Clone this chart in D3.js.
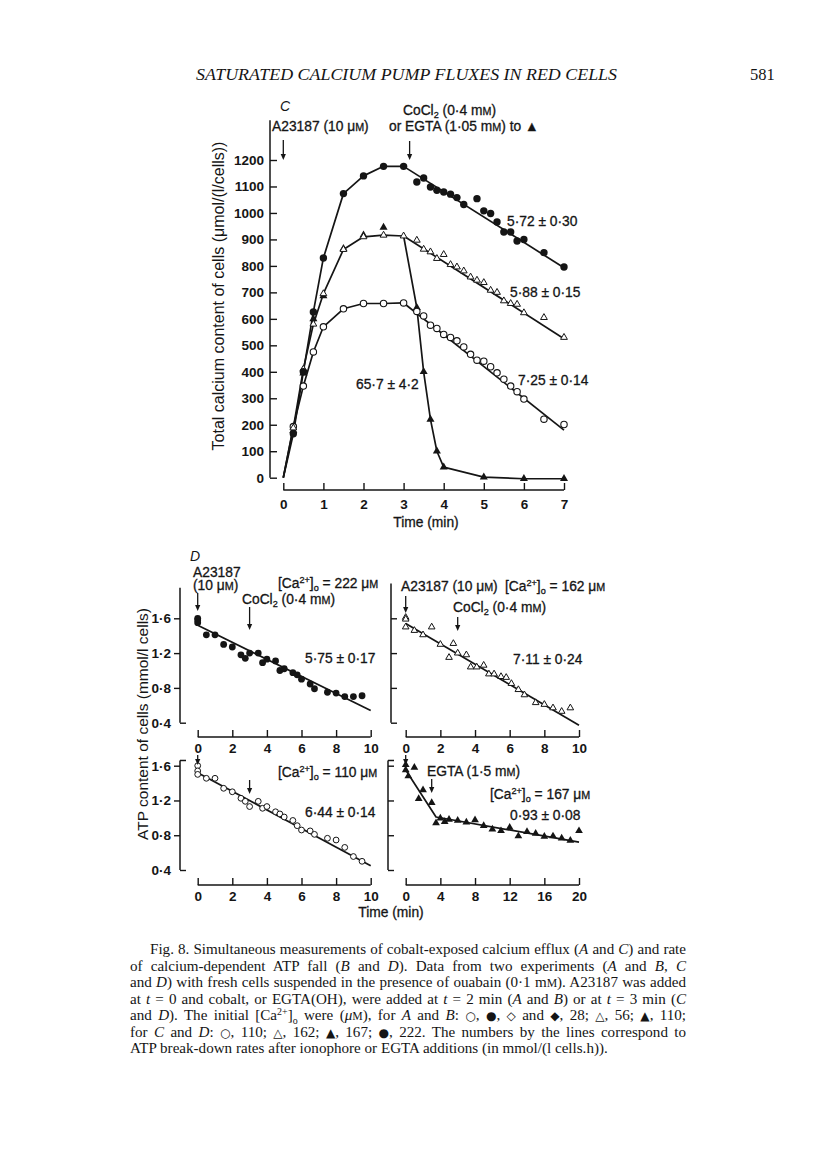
<!DOCTYPE html>
<html><head><meta charset="utf-8">
<script src="https://cdn.jsdelivr.net/npm/d3@7"></script>
<style>body{margin:0;background:#fff}</style>
</head><body>
<svg id="fig" width="816" height="1166" xmlns="http://www.w3.org/2000/svg"></svg>
<script>
// ---------------- DATA ----------------
// Panel C: total calcium content (µmol/(l cells)) vs time (min)
const cXTicks = [0,1,2,3,4,5,6,7];
const cYTicks = [0,100,200,300,400,500,600,700,800,900,1000,1100,1200];
const cFilledCircles = [[0.25,166],[0.5,400],[0.75,626],[1,830],[1.5,1073],[2,1140],[2.5,1176],[3,1176],
  [3.33,1117],[3.5,1132],[3.67,1098],[3.83,1086],[4,1079],[4.17,1071],[4.33,1058],[4.5,1032],[4.83,1054],
  [5,1008],[5.17,998],[5.33,966],[5.5,928],[5.67,928],[5.83,894],[6,900],[6.5,850],[7,796]];
const cOpenTriangles = [[0.25,188],[0.5,410],[0.75,580],[1,695],[1.5,862],[2,910],[2.5,916],[3,913],
  [3.33,897],[3.5,863],[3.67,853],[3.83,828],[4,843],[4.17,805],[4.33,796],[4.5,781],[4.67,758],[4.83,746],
  [5,737],[5.17,708],[5.33,700],[5.5,668],[5.67,658],[5.83,655],[6,623],[6.5,605],[7,530]];
const cFilledTriangles = [[0.25,178],[0.5,395],[0.75,600],[1,687],[1.5,865],[2,916],[2.5,945],
  [3.33,642],[3.5,400],[3.67,220],[3.83,100],[4,40],[5,2],[6,-4],[7,-4]];
const cOpenCircles = [[0.25,193],[0.5,346],[0.75,475],[1,570],[1.5,638],[2,658],[2.5,658],[3,660],
  [3.33,628],[3.5,611],[3.67,576],[3.83,564],[4,541],[4.17,530],[4.33,517],[4.5,494],[4.67,466],[4.83,444],
  [5,440],[5.17,419],[5.33,396],[5.5,372],[5.67,346],[5.83,325],[6,297],[6.5,221],[7,201]];
const cOrigin = [0,0];
const cFitFilledCircles = [[3,1176],[7,793]];
const cFitOpenTriangles = [[3,913],[7,525]];
const cFitOpenCircles = [[3,660],[7,180]];
const cEgtaDrop = [[3,913],[3.33,642],[3.5,400],[3.67,220],[3.83,100],[4,40],[5,2],[6,-4],[7,-4]];
const cRates = ["5·72 ± 0·30","5·88 ± 0·15","7·25 ± 0·14","65·7 ± 4·2"];

// Panel D: ATP content (mmol/l cells) vs time (min)
const dYTicks = [0.4,0.8,1.2,1.6];
const dXTicks10 = [0,2,4,6,8,10];
const dXTicks20 = [0,4,8,12,16,20];
const dFilledCircles222 = [[0,1.60],[0,1.58],[0,1.55],[0.5,1.41],[1,1.41],[1.5,1.30],[2,1.27],[2.5,1.18],
  [2.75,1.14],[3,1.20],[3.5,1.20],[3.75,1.09],[4,1.13],[4.5,1.11],[4.75,1.00],[5,1.02],[5.5,0.975],
  [5.75,0.95],[6,0.90],[6.5,0.845],[6.75,0.79],[7.5,0.75],[8,0.74],[8.5,0.70],[9,0.70],[9.5,0.71]];
const dOpenTriangles162 = [[0,1.61],[0,1.59],[0,1.50],[0.5,1.46],[1,1.41],[1.5,1.50],[2,1.30],[2.5,1.15],
  [2.75,1.31],[3,1.20],[3.5,1.18],[3.75,1.04],[4.1,1.04],[4.5,1.06],[4.8,0.96],[5.1,0.96],[5.5,0.93],
  [5.8,0.92],[6.1,0.85],[6.5,0.78],[6.85,0.72],[7.5,0.63],[8,0.61],[8.5,0.57],[9,0.53],[9.5,0.57]];
const dOpenCircles110 = [[0,1.60],[0,1.54],[0,1.50],[0.5,1.455],[1,1.455],[1.5,1.34],[2,1.30],[2.5,1.225],
  [2.75,1.19],[3,1.13],[3.5,1.19],[3.75,1.11],[4,1.13],[4.5,1.07],[4.75,1.045],[5,1.01],[5.5,0.97],
  [5.75,0.91],[6,0.86],[6.5,0.85],[6.75,0.81],[7.5,0.765],[8,0.745],[8.5,0.66],[9,0.555],[9.5,0.50]];
const dFilledTriangles167 = [[0,1.61],[0,1.55],[0.3,1.48],[1,1.58],[1.5,1.22],[2,1.32],[3,1.175],[3.5,0.94],
  [4,0.995],[4.5,0.955],[5,0.98],[6,0.97],[7,0.95],[8,0.975],[9,0.91],[10,0.87],[11,0.85],[12,0.89],
  [13,0.79],[14,0.84],[15,0.82],[16,0.785],[17,0.79],[18,0.765],[19,0.74],[20,0.85]];
const dFit222 = [[0,1.52],[10,0.54]];
const dFit162 = [[0,1.54],[10,0.37]];
const dFit110 = [[0,1.52],[10,0.45]];
const dFit167 = [[0,1.55],[3.5,1.01],[20,0.72]];
const dRates = ["5·75 ± 0·17","7·11 ± 0·24","6·44 ± 0·14","0·93 ± 0·08"];

const captionLines = [
  "Fig. 8. Simultaneous measurements of cobalt-exposed calcium efflux (*{A} and *{C}) and rate",
  "of calcium-dependent ATP fall (*{B} and *{D}). Data from two experiments (*{A} and *{B}, *{C}",
  "and *{D}) with fresh cells suspended in the presence of ouabain (0·1 m~{M}). A23187 was added",
  "at *{t} = 0 and cobalt, or EGTA(OH), were added at *{t} = 2 min (*{A} and *{B}) or at *{t} = 3 min (*{C}",
  "and *{D}). The initial [Ca^{2+}]_{o} were (*{μ}~{M}), for *{A} and *{B}: #{○}, #{●}, #{◇} and #{◆}, 28; #{△}, 56; #{▲}, 110;",
  "for *{C} and *{D}: #{○}, 110; #{△}, 162; #{▲}, 167; #{●}, 222. The numbers by the lines correspond to",
  "ATP break-down rates after ionophore or EGTA additions (in mmol/(l cells.h))."
];

// ---------------- DRAWING ----------------
const svg = d3.select("#fig");
svg.append("rect").attr("width",816).attr("height",1166).attr("fill","#fff");
const INK = "#151515";
const SANS = "'Liberation Sans', Arial, Helvetica, sans-serif";
const SERIF = "'Liberation Serif', 'Times New Roman', serif";
const SYM = "'DejaVu Sans', sans-serif";
const FS = 13.8; // annotation font size

function rich(sel, x, y, s, size, anchor, family){
  const t = sel.append("text").attr("x",x).attr("y",y).attr("font-size",size)
    .attr("text-anchor",anchor||"start").attr("font-family",family||SANS).attr("fill",INK);
  const re = /([_^~*#])\{([^}]*)\}/g; let last=0, m, shift=0;
  const push = (txt,type)=>{
    if(!txt) return;
    const ts = t.append("tspan").text(txt);
    let target=0, fs=size;
    if(type==="_"){target=size*0.24; fs=size*0.66;}
    else if(type==="^"){target=-size*0.33; fs=size*0.66;}
    else if(type==="~"){fs=size*0.78;}
    else if(type==="*"){ts.attr("font-style","italic");}
    else if(type==="#"){fs=size*0.8; ts.attr("font-family",SYM);}
    ts.attr("font-size",fs);
    if(target!==shift){ts.attr("dy",target-shift); shift=target;}
  };
  while((m=re.exec(s))){ push(s.slice(last,m.index),""); push(m[2],m[1]); last=re.lastIndex; }
  push(s.slice(last),"");
  return t;
}
function note(sel,x,y,s,anchor){
  return rich(sel,x,y,s,FS,anchor).attr("stroke",INK).attr("stroke-width",0.3);
}
function arrow(sel, x, y1, y2){
  sel.append("line").attr("x1",x).attr("x2",x).attr("y1",y1).attr("y2",y2-4)
    .attr("stroke",INK).attr("stroke-width",1.3);
  sel.append("path").attr("d",`M${x-2.6},${y2-6}L${x+2.6},${y2-6}L${x},${y2}Z`).attr("fill",INK);
}
const fmt = d => String(d).replace(".","·");
function styleAxis(g, size){
  g.selectAll("path.domain").remove();
  g.selectAll(".tick line").attr("stroke",INK).attr("stroke-width",1.4);
  g.selectAll(".tick text").attr("font-family",SANS).attr("font-size",size).attr("fill",INK)
    .attr("font-weight","bold");
}
function vline(sel,x,y1,y2){ sel.append("line").attr("x1",x).attr("x2",x).attr("y1",y1).attr("y2",y2).attr("stroke",INK).attr("stroke-width",1.5); }
function hline(sel,y,x1,x2){ sel.append("line").attr("x1",x1).attr("x2",x2).attr("y1",y).attr("y2",y).attr("stroke",INK).attr("stroke-width",1.5); }

// header
svg.append("text").attr("x",196).attr("y",80).attr("font-family",SERIF).attr("font-style","italic")
  .attr("font-size",16.5).attr("fill",INK).attr("textLength",421).attr("lengthAdjust","spacingAndGlyphs")
  .text("SATURATED CALCIUM PUMP FLUXES IN RED CELLS");
svg.append("text").attr("x",750).attr("y",80).attr("font-family",SERIF).attr("font-size",16.5).attr("fill",INK).text("581");

// ---------- Panel C ----------
const gC = svg.append("g");
const xC = d3.scaleLinear().domain([0,7]).range([283.3,564]);
const yC = d3.scaleLinear().domain([0,1200]).range([477.7,160]);
const yAxC = gC.append("g").attr("transform",`translate(${270},0)`)
  .call(d3.axisLeft(yC).tickValues(cYTicks).tickFormat(d=>String(d)).tickSizeInner(-7).tickSizeOuter(0).tickPadding(6));
styleAxis(yAxC,13.5);
vline(gC,270,yC(0),yC(1350));
const xAxC = gC.append("g").attr("transform",`translate(0,${490})`)
  .call(d3.axisBottom(xC).tickValues(cXTicks).tickFormat(d=>String(d)).tickSizeInner(-7).tickSizeOuter(0).tickPadding(9));
styleAxis(xAxC,13.5);
hline(gC,490,xC(0),xC(7));

const lineC = d3.line().x(d=>xC(d[0])).y(d=>yC(d[1]));
const rise = arr => [cOrigin].concat(arr.filter(d=>d[0]<=3));
const lineStyle = p => p.attr("fill","none").attr("stroke",INK).attr("stroke-width",1.7).attr("stroke-linejoin","round");
[rise(cFilledCircles), rise(cOpenTriangles), rise(cOpenCircles), cFitFilledCircles, cFitOpenTriangles, cFitOpenCircles, cEgtaDrop]
  .forEach(a=> lineStyle(gC.append("path").attr("d",lineC(a))));

const tri = (size)=> d3.symbol().type(d3.symbolTriangle).size(size)();
gC.selectAll(".ft").data(cFilledTriangles).join("path").attr("d",tri(28))
  .attr("transform",d=>`translate(${xC(d[0])},${yC(d[1])})`).attr("fill",INK);
gC.selectAll(".oc").data(cOpenCircles).join("circle").attr("cx",d=>xC(d[0])).attr("cy",d=>yC(d[1]))
  .attr("r",3.2).attr("fill","#fff").attr("stroke",INK).attr("stroke-width",1.1);
gC.selectAll(".ot").data(cOpenTriangles).join("path").attr("d",tri(20))
  .attr("transform",d=>`translate(${xC(d[0])},${yC(d[1])})`).attr("fill","#fff").attr("stroke",INK).attr("stroke-width",1);
gC.selectAll(".fc").data(cFilledCircles).join("circle").attr("cx",d=>xC(d[0])).attr("cy",d=>yC(d[1]))
  .attr("r",3.7).attr("fill",INK);

// labels C
rich(gC,280,111,"C",14).attr("font-style","italic");
note(gC,272,131,"A23187 (10 μ~{M})");
note(gC,403,115,"CoCl_{2} (0·4 m~{M})");
note(gC,389,131,"or EGTA (1·05 m~{M}) to ▲");
arrow(gC,xC(0),140,160);
arrow(gC,xC(3.15),141,160);
note(gC,507,226,cRates[0]);
note(gC,510,297,cRates[1]);
note(gC,518,385,cRates[2]);
note(gC,356,389,cRates[3]);
note(gC,426,527,"Time (min)","middle");
rich(gC,0,0,"Total calcium content of cells (μmol/(l/cells))",16,"middle")
  .attr("transform","translate(224,296) rotate(-90)");

// ---------- Panel D ----------
const gD = svg.append("g");
const xTL = d3.scaleLinear().domain([0,10]).range([197.7,370.7]);
const xTR = d3.scaleLinear().domain([0,10]).range([405.7,579]);
const xBR = d3.scaleLinear().domain([0,20]).range([405.7,579]);
const yTop = d3.scaleLinear().domain([0.4,1.6]).range([722.7,618.3]);
const yBot = d3.scaleLinear().domain([0.4,1.6]).range([870,765.7]);

function dYAxis(x, yS, labels, inward, topVal, capTop){
  const ax = (inward? d3.axisLeft(yS).tickSizeInner(-6) : d3.axisLeft(yS).tickSizeInner(6))
    .tickValues(dYTicks).tickSizeOuter(0).tickPadding(inward?4:3).tickFormat(labels? fmt : ()=> "");
  const g = gD.append("g").attr("transform",`translate(${x},0)`).call(ax);
  styleAxis(g,13.5);
  g.selectAll(".tick").filter(d=>d===0.4).select("line").attr("x2",6);
  vline(gD,x,yS(0.4),yS(topVal));
  if(capTop) hline(gD,yS(topVal),x,x+6);
}
dYAxis(180,yTop,true,false,1.95,false);
dYAxis(391,yTop,false,true,2.0,false);
dYAxis(180,yBot,true,false,1.66,true);
dYAxis(388,yBot,false,true,1.66,true);

function dXAxis(xS, y, ticks){
  const g = gD.append("g").attr("transform",`translate(0,${y})`)
    .call(d3.axisBottom(xS).tickValues(ticks).tickFormat(d=>String(d)).tickSizeInner(-7).tickSizeOuter(0).tickPadding(6));
  styleAxis(g,13.5);
  hline(gD,y,xS(ticks[0]),xS(ticks[ticks.length-1]));
}
dXAxis(xTL,737,dXTicks10);
dXAxis(xTR,737,dXTicks10);
dXAxis(xTL,885,dXTicks10);
dXAxis(xBR,885,dXTicks20);

function dPanel(xS,yS,pts,fit,kind){
  const ln = d3.line().x(d=>xS(d[0])).y(d=>yS(d[1]));
  lineStyle(gD.append("path").attr("d",ln(fit)));
  const sel = gD.append("g").selectAll("x").data(pts);
  if(kind==="fc") sel.join("circle").attr("cx",d=>xS(d[0])).attr("cy",d=>yS(d[1])).attr("r",3.4).attr("fill",INK);
  if(kind==="oc") sel.join("circle").attr("cx",d=>xS(d[0])).attr("cy",d=>yS(d[1])).attr("r",2.9)
      .attr("fill","#fff").attr("stroke",INK).attr("stroke-width",1);
  if(kind==="ot") sel.join("path").attr("d",tri(19)).attr("transform",d=>`translate(${xS(d[0])},${yS(d[1])})`)
      .attr("fill","#fff").attr("stroke",INK).attr("stroke-width",1);
  if(kind==="ft") sel.join("path").attr("d",tri(26)).attr("transform",d=>`translate(${xS(d[0])},${yS(d[1])})`).attr("fill",INK);
}
dPanel(xTL,yTop,dFilledCircles222,dFit222,"fc");
dPanel(xTR,yTop,dOpenTriangles162,dFit162,"ot");
dPanel(xTL,yBot,dOpenCircles110,dFit110,"oc");
dPanel(xBR,yBot,dFilledTriangles167,dFit167,"ft");

// labels D
rich(gD,190,561,"D",14).attr("font-style","italic");
note(gD,193,577,"A23187");
note(gD,193,590,"(10 μ~{M})");
note(gD,278,588,"[Ca^{2+}]_{o} = 222 μ~{M}");
note(gD,242,604,"CoCl_{2} (0·4 m~{M})");
arrow(gD,xTL(0),593,611);
arrow(gD,xTL(3),607,630);
note(gD,305,663,dRates[0]);

note(gD,401,591,"A23187 (10 μ~{M})");
note(gD,505,591,"[Ca^{2+}]_{o} = 162 μ~{M}");
note(gD,453,612,"CoCl_{2} (0·4 m~{M})");
arrow(gD,xTR(0),596,613);
arrow(gD,xTR(3),617,631);
note(gD,513,664,dRates[1]);

arrow(gD,xTL(0),755,765);
note(gD,278,777,"[Ca^{2+}]_{o} = 110 μ~{M}");
arrow(gD,xTL(3),780,794);
note(gD,305,817,dRates[2]);

arrow(gD,xBR(0),755,765);
note(gD,427,776,"EGTA (1·5 m~{M})");
arrow(gD,xBR(3),779,793);
note(gD,490,799,"[Ca^{2+}]_{o} = 167 μ~{M}");
note(gD,510,820,dRates[3]);

note(gD,391,917,"Time (min)","middle");
rich(gD,0,0,"ATP content of cells (mmol/l cells)",15.5,"middle")
  .attr("transform","translate(148,724) rotate(-90)");

// ---------- Caption (justified by word spacing) ----------
const gCap = svg.append("g");
const capY0 = 954, capDY = 16.5;
captionLines.forEach((s,i)=>{
  const x = i===0 ? 150 : 130;
  const t = rich(gCap,x,capY0+i*capDY,s,15.1,"start",SERIF);
  if(i < captionLines.length-1){
    const natural = t.node().getComputedTextLength();
    const spaces = (t.node().textContent.match(/ /g)||[]).length;
    const ws = Math.max(0,(686 - x - natural)/spaces);
    t.style("word-spacing", ws+"px");
  }
});
</script>
</body></html>
